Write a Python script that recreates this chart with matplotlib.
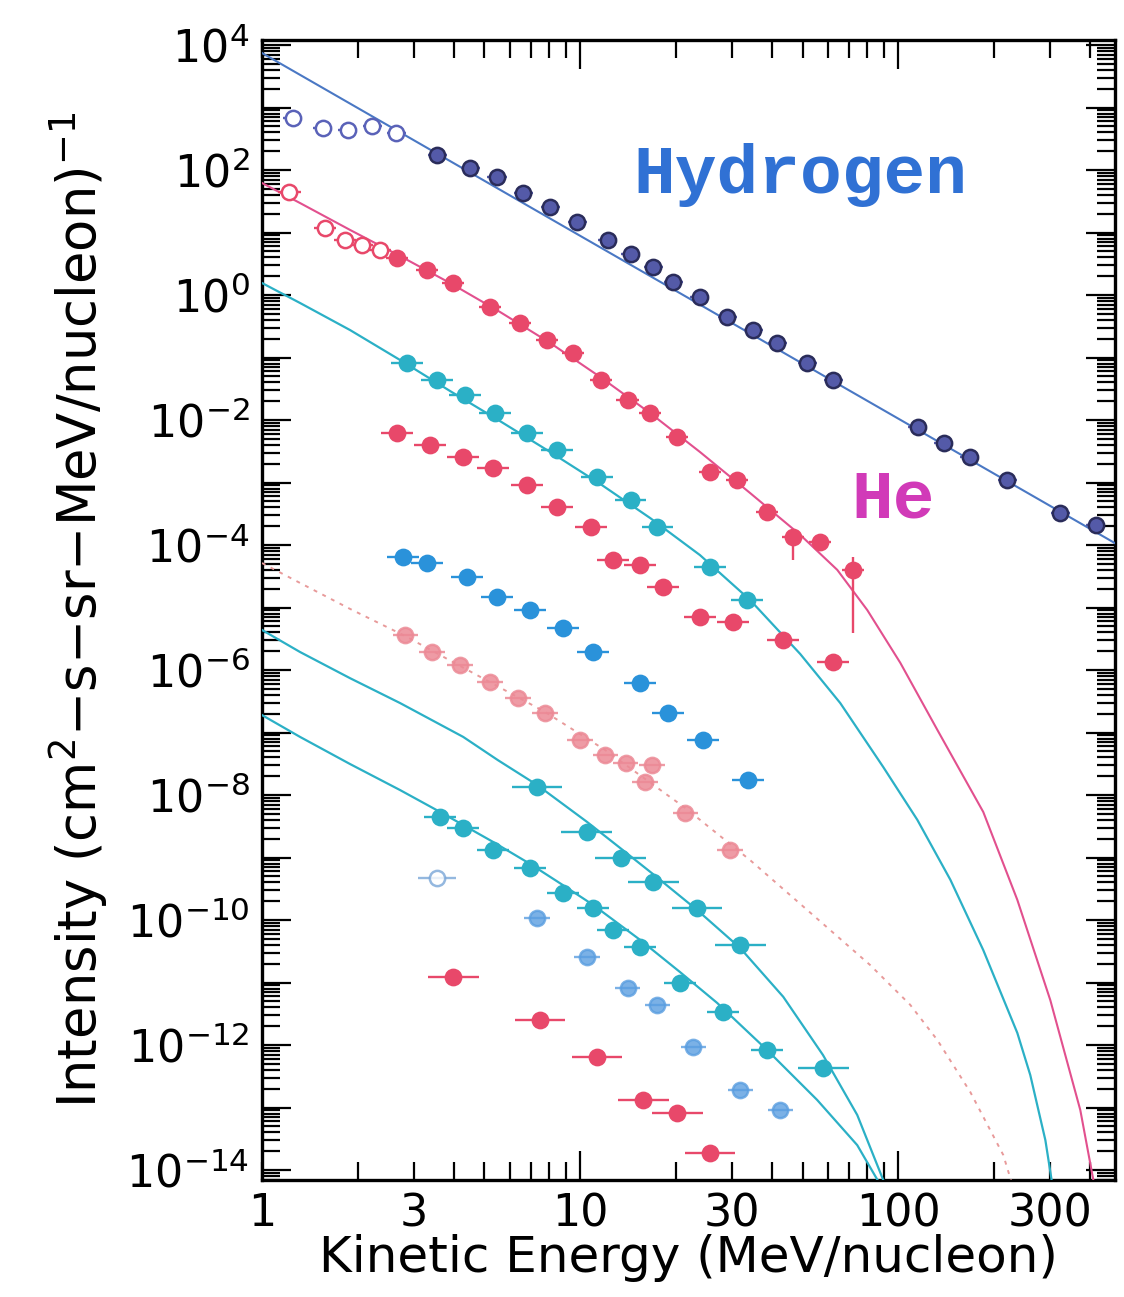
import matplotlib
matplotlib.use("Agg")
import matplotlib.pyplot as plt
from matplotlib.ticker import FixedLocator, FuncFormatter, LogLocator, NullFormatter
import numpy as np

# ---------------- data ----------------
# Hydrogen
h_open_E = [1.25, 1.55, 1.86, 2.22, 2.64]
h_open_I = [680, 470, 437, 505, 390]
h_E = [3.55, 4.51, 5.48, 6.62, 8.05, 9.79, 12.2, 14.4, 17.0, 19.6, 23.8, 29.0,
       35.0, 41.6, 51.7, 62.5, 115, 139, 168, 220, 323, 417]
h_I = [174, 108, 77, 43, 25.6, 14.7, 7.6, 4.5, 2.8, 1.6, 0.93, 0.44, 0.275,
       0.17, 0.082, 0.044, 0.0077, 0.0043, 0.0026, 0.0011, 3.25e-4, 2.1e-4]
h_fit_E = [1, 480]
h_fit_I = [7450, 1.07e-4]

# Helium
he_open_E = [1.22, 1.58, 1.82, 2.06, 2.35]
he_open_I = [44.5, 11.8, 7.6, 6.3, 5.25]
he_E = [2.66, 3.30, 3.99, 5.21, 6.48, 7.87, 9.51, 11.6, 14.1, 16.6, 20.2, 25.6,
        31.2, 38.7, 46.7, 56.9, 72.2]
he_I = [3.9, 2.5, 1.56, 0.64, 0.356, 0.19, 0.118, 0.044, 0.021, 0.0129, 0.0053,
        0.00147, 0.0011, 3.4e-4, 1.34e-4, 1.12e-4, 4.0e-5]
he_fit_E = [1, 1.317, 1.891, 2.716, 3.90, 5.60, 8.05, 11.56, 16.6, 23.8, 34.2,
            49.2, 64.3, 79.9, 101.5, 132.7, 185, 236.7, 300.6, 373.4, 410.4]
he_fit_I = [62, 29.6, 11.0, 4.2, 1.556, 0.535, 0.171, 0.0488, 0.0129, 3.08e-3,
            6.8e-4, 1.45e-4, 4.0e-5, 9.1e-6, 1.3e-6, 1.1e-7, 5.35e-9, 2.1e-10,
            5.2e-12, 9.1e-14, 6.9e-15]

# Cyan series C (upper cyan curve)
c_E = [2.86, 3.55, 4.35, 5.40, 6.81, 8.47, 11.3, 14.4, 17.5, 25.6, 33.5]
c_I = [0.082, 0.044, 0.025, 0.0129, 6.2e-3, 3.3e-3, 1.22e-3, 5.2e-4, 1.94e-4,
       4.4e-5, 1.32e-5]
c_fit_E = [1, 1.317, 1.891, 2.716, 3.90, 5.60, 8.05, 11.56, 16.6, 23.8, 34.2,
           49.2, 65.7, 89.7, 114.8, 145.8, 185, 236.7, 260, 290, 305]
c_fit_I = [1.556, 0.745, 0.275, 0.0912, 0.0291, 9.6e-3, 3.08e-3, 9.5e-4, 2.7e-4,
           6.9e-5, 1.32e-5, 1.8e-6, 2.96e-7, 2.8e-8, 4.0e-9, 4.4e-10, 3.3e-11,
           1.56e-12, 3.3e-13, 3.0e-14, 5.8e-15]

# Red series D
d_E = [2.66, 3.38, 4.29, 5.33, 6.81, 8.47, 10.8, 12.7, 15.4, 18.2, 23.8, 30.3,
       43.5, 62.5]
d_I = [6.2e-3, 4.0e-3, 2.56e-3, 1.7e-3, 9.1e-4, 4.1e-4, 1.94e-4, 5.75e-5, 4.8e-5,
       2.1e-5, 7.0e-6, 5.9e-6, 3.0e-6, 1.34e-6]

# Blue series E
e_E = [2.77, 3.30, 4.41, 5.48, 6.96, 8.85, 11.0, 15.4, 18.9, 24.4, 33.8]
e_I = [6.4e-5, 5.2e-5, 3.1e-5, 1.47e-5, 9.1e-6, 4.7e-6, 1.94e-6, 6.2e-7, 2.05e-7,
       7.6e-8, 1.74e-8]

# Pale red series F with dotted curve
f_E = [2.82, 3.42, 4.19, 5.21, 6.38, 7.76, 10.0, 12.0, 13.9, 16.0, 16.8, 21.4, 29.6]
f_I = [3.6e-6, 1.94e-6, 1.2e-6, 6.4e-7, 3.6e-7, 2.05e-7, 7.6e-8, 4.4e-8, 3.25e-8,
       1.6e-8, 3.0e-8, 5.2e-9, 1.32e-9]
f_fit_E = [1, 1.317, 1.891, 2.817, 4.195, 7.76, 11.98, 21.4, 34.2, 51.7, 81.6,
           109, 132.7, 168.4, 213.8, 228.3]
f_fit_I = [5.15e-5, 2.47e-5, 9.5e-6, 3.5e-6, 1.16e-6, 2.13e-7, 5.25e-8, 6.2e-9,
           9.1e-10, 1.45e-10, 1.9e-11, 4.4e-12, 1.2e-12, 1.77e-13, 1.74e-14, 5.8e-15]

# Cyan series G (middle cyan curve)
g_E = [7.32, 10.5, 13.4, 17.0, 23.3, 31.9, 58.1]
g_I = [1.34e-8, 2.56e-9, 9.8e-10, 4.1e-10, 1.56e-10, 4.0e-11, 4.3e-13]
g_fit_E = [1, 1.317, 1.891, 2.716, 4.29, 5.52, 7.32, 10.52, 13.36, 16.97, 23.3,
           31.85, 43.5, 58.0, 74.3, 89.7]
g_fit_I = [4.37e-6, 1.94e-6, 7.4e-7, 2.96e-7, 8.5e-8, 3.6e-8, 1.45e-8, 3.7e-9,
           1.42e-9, 5.4e-10, 1.45e-10, 3.56e-11, 5.9e-12, 6.9e-13, 7.6e-14, 6.9e-15]

# Cyan series K (lower cyan curve)
k_E = [3.63, 4.29, 5.33, 6.96, 8.85, 11.0, 12.7, 15.4, 20.6, 28.2, 38.7]
k_I = [4.4e-9, 2.96e-9, 1.32e-9, 6.8e-10, 2.7e-10, 1.56e-10, 6.9e-11, 3.7e-11,
       9.8e-12, 3.4e-12, 8.3e-13]
k_fit_E = [1, 1.317, 1.891, 2.716, 3.63, 5.33, 6.96, 8.84, 10.99, 15.44, 20.6,
           26.97, 38.7, 55.6, 74.3, 87.8]
k_fit_I = [1.9e-7, 8.5e-8, 3.13e-8, 1.2e-8, 5.35e-9, 1.77e-9, 7.9e-10, 3.6e-10,
           1.74e-10, 4.8e-11, 1.47e-11, 4.7e-12, 8.3e-13, 1.32e-13, 2.5e-14, 5.8e-15]

# Pale blue series
i_open_E = [3.55]
i_open_I = [4.7e-10]
i_E = [7.32, 10.5, 14.1, 17.5, 22.7, 31.9, 42.6]
i_I = [1.08e-10, 2.56e-11, 8.2e-12, 4.4e-12, 9.3e-13, 1.9e-13, 9.1e-14]

# Red series J (lowest)
j_E = [3.99, 7.48, 11.3, 15.8, 20.2, 25.6]
j_I = [1.23e-11, 2.5e-12, 6.4e-13, 1.32e-13, 8.2e-14, 1.87e-14]

x_tick_labels = ["1", "3", "10", "30", "100", "300"]
x_label_vals = [1, 3, 10, 30, 100, 300]
y_exponents = list(range(-14, 5))

# ---------------- styling ----------------
plt.rcParams['font.family'] = ['DejaVu Sans']
plt.rcParams['mathtext.fontset'] = 'dejavusans'

W, H = 1124, 1297
fig = plt.figure(figsize=(W / 100, H / 100), dpi=100)
ax = fig.add_axes([262 / W, 117 / H, 853 / W, 1140 / H])
ax.set_xscale('log')
ax.set_yscale('log')
ax.set_xlim(1, 480)
ax.set_ylim(10 ** -14.16, 10 ** 4.08)

CYAN = '#2bb0c6'
PINK = '#e2508e'
RED = '#e8486a'
BLUE = '#2a92da'
HBLUE = '#4a78c4'


def xerr_of(E, w):
    E = np.asarray(E, float)
    return [E - E / 10 ** w, E * 10 ** w - E]


def pts(E, I, color, w, ms=11, mfc=None, mec=None, alpha=1.0, marker='o', yerr=None):
    ax.errorbar(E, I, xerr=xerr_of(E, w), yerr=yerr, fmt=marker, ms=ms,
                color=color, mfc=mfc if mfc else color,
                mec=mec if mec else color, mew=1.8, elinewidth=1.7,
                capsize=0, alpha=alpha, zorder=4)


# fit curves
ax.plot(h_fit_E, h_fit_I, color=HBLUE, lw=1.5, zorder=3)
ax.plot(he_fit_E, he_fit_I, color=PINK, lw=1.5, zorder=3)
ax.plot(c_fit_E, c_fit_I, color=CYAN, lw=1.6, zorder=3)
ax.plot(f_fit_E, f_fit_I, color='#e89a9a', lw=1.4, ls=(0, (2, 3)), zorder=3)
ax.plot(g_fit_E, g_fit_I, color=CYAN, lw=1.6, zorder=3)
ax.plot(k_fit_E, k_fit_I, color=CYAN, lw=1.6, zorder=3)

# data points
pts(h_open_E, h_open_I, '#5a62b8', 0.03, mfc='white')
pts(h_E, h_I, '#545aa8', 0.03, mec='#2a2c5a')
pts(he_open_E, he_open_I, RED, 0.035, mfc='white')
he_yerr = np.zeros((2, len(he_E)))
he_yerr[0, -3] = he_I[-3] - 5.7e-5
he_yerr[0, -1] = he_I[-1] - 3.9e-6
he_yerr[1, -1] = 6.4e-5 - he_I[-1]
pts(he_E, he_I, RED, 0.035, yerr=he_yerr)
pts(c_E, c_I, CYAN, 0.05)
pts(d_E, d_I, RED, 0.05)
pts(e_E, e_I, BLUE, 0.05)
pts(f_E, f_I, '#ec8a96', 0.04, alpha=0.85)
pts(g_E, g_I, CYAN, 0.08)
pts(k_E, k_I, CYAN, 0.05)
pts(i_open_E, i_open_I, '#7aa6d8', 0.06, mfc='white', alpha=0.8)
pts(i_E, i_I, '#5a9ee0', 0.04, alpha=0.8)
pts(j_E, j_I, RED, 0.08)

# ---------------- axes / ticks ----------------
ax.xaxis.set_major_locator(FixedLocator([10, 100]))
ax.xaxis.set_minor_locator(FixedLocator([1, 2, 3, 4, 5, 6, 7, 8, 9,
                                         20, 30, 40, 50, 60, 70, 80, 90,
                                         200, 300, 400]))
lab_map = dict(zip(x_label_vals, x_tick_labels))
ax.xaxis.set_major_formatter(FuncFormatter(lambda v, p: lab_map.get(int(round(v)), "")))
ax.xaxis.set_minor_formatter(FuncFormatter(lambda v, p: lab_map.get(int(round(v)), "")))

ax.yaxis.set_major_locator(FixedLocator([10.0 ** e for e in y_exponents]))
ax.yaxis.set_minor_locator(LogLocator(base=10, subs=np.arange(2, 10), numticks=40))


def yfmt(v, p):
    e = int(round(np.log10(v)))
    if e % 2:
        return ""
    s = str(e).replace('-', '\u2212')
    return r"$\mathregular{10^{%s}}$" % s


ax.yaxis.set_major_formatter(FuncFormatter(yfmt))
ax.yaxis.set_minor_formatter(NullFormatter())

ax.tick_params(which='both', direction='in', top=True, right=True, width=1.6,
               colors='black')
ax.tick_params(which='major', length=21)
ax.tick_params(which='minor', length=13)
ax.tick_params(axis='x', which='both', labelsize=32, pad=9)
ax.tick_params(axis='y', which='both', labelsize=32, pad=9)
for s in ax.spines.values():
    s.set_linewidth(2.4)

ax.set_xlabel("Kinetic Energy (MeV/nucleon)", fontsize=36)
ax.xaxis.set_label_coords(0.5, -0.0474)
ax.set_ylabel("Intensity (cm$^2$\u2212s\u2212sr\u2212MeV/nucleon)$^{\u22121}$",
              fontsize=38, labelpad=12)

ax.text(0.631, 0.8816, "Hydrogen", transform=ax.transAxes, ha='center',
        va='center', fontsize=50, family='Liberation Mono', weight='bold',
        color='#3071d4')
ax.text(0.740, 0.5965, "He", transform=ax.transAxes, ha='center', va='center',
        fontsize=50, family='Liberation Mono', weight='bold', color='#d13ab8')

fig.savefig("out.png", dpi=100)
